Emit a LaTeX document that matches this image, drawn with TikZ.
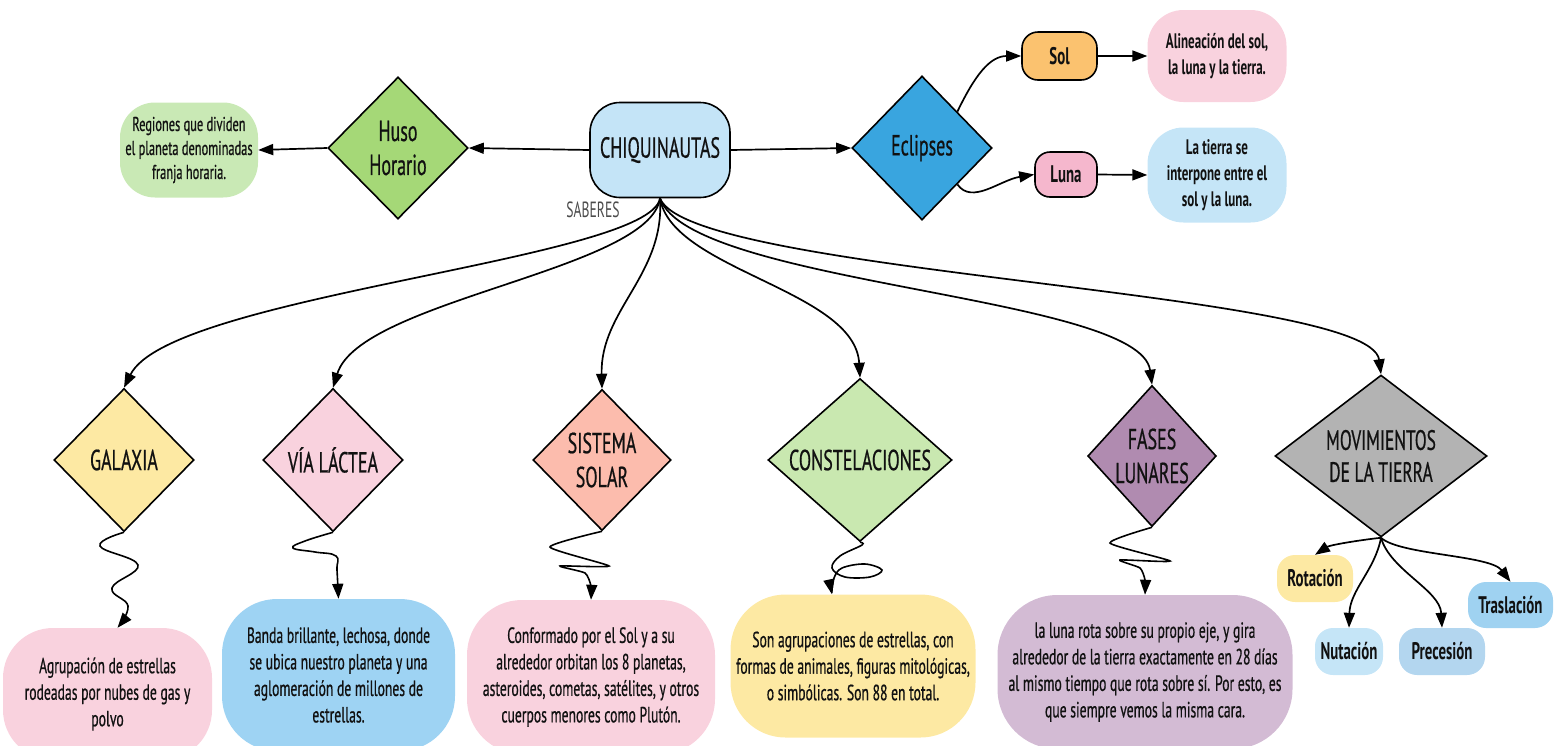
\documentclass[tikz,border=0pt]{standalone}
\usepackage{fontspec}
\setmainfont{PT Sans}[FakeStretch=0.62]
\newfontfamily\firmfont{PT Sans}[FakeStretch=0.62, FakeBold=0.6]
\usetikzlibrary{shapes.geometric,arrows.meta,calc}

\definecolor{ink}{HTML}{111111}
\definecolor{cReg}{HTML}{C9E9B5}
\definecolor{cHuso}{HTML}{A5D877}
\definecolor{cChiq}{HTML}{C4E4F7}
\definecolor{cEcl}{HTML}{39A5DF}
\definecolor{cSol}{HTML}{FBC26F}
\definecolor{cLuna}{HTML}{F5B7CD}
\definecolor{cPink}{HTML}{F9D2DE}
\definecolor{cSky}{HTML}{C5E5F7}
\definecolor{cYel}{HTML}{FDE9A3}
\definecolor{cSalmon}{HTML}{FCBCAD}
\definecolor{cGreen}{HTML}{C9E8B0}
\definecolor{cPurple}{HTML}{B08BB0}
\definecolor{cGray}{HTML}{B3B3B3}
\definecolor{cBlue}{HTML}{9ED3F3}
\definecolor{cLilac}{HTML}{D3BBD4}
\definecolor{cSteel}{HTML}{B3D6EF}
\definecolor{cTras}{HTML}{9FD2F1}

\begin{document}
\begin{tikzpicture}[x=1pt,y=-1pt,
  every node/.style={text=ink, align=center, inner sep=0pt},
  body/.style={font=\firmfont\fontsize{22}{26.5}\selectfont},
  small/.style={font=\firmfont\fontsize{20}{24}\selectfont},
  tag/.style={font=\fontsize{24}{28}\selectfont\bfseries},
  note/.style={font=\fontsize{21}{26}\selectfont\bfseries},
  head/.style={font=\firmfont\fontsize{29}{34}\selectfont},
  pill/.style={rectangle, rounded corners=#1},
  framed/.style={draw=black, line width=1.6pt},
  dia/.style={diamond, draw=black, line width=1.6pt, head},
  conn/.style={draw=black, line width=1.7pt, -{Triangle[length=15pt,width=11pt]}},
  wave/.style={conn, line width=1.6pt}
]
\useasboundingbox (0,0) rectangle (1560,745);

% ---- central node and top row ----
\node[pill=30pt, framed, fill=cChiq, minimum width=140pt, minimum height=95pt, head] (chiq) at (660,150) {CHIQUINAUTAS};
\node[font=\fontsize{22}{26}\selectfont, text=black!70] (sab) at (593,210) {SABERES};

\node[dia, fill=cHuso, minimum width=140pt, minimum height=142pt] (huso) at (398,148) {Huso\\Horario};
\node[pill=35pt, fill=cReg, minimum width=138pt, minimum height=95pt, small] (reg) at (189,150)
  {Regiones que dividen\\el planeta denominadas\\franja horaria.};

\node[dia, fill=cEcl, minimum width=140pt, minimum height=144pt] (ecl) at (922,148) {Eclipses};
\node[pill=16pt, framed, fill=cSol, minimum width=75pt, minimum height=48pt, tag] (sol) at (1059.5,56) {Sol};
\node[pill=15pt, framed, fill=cLuna, minimum width=62pt, minimum height=45pt, tag] (luna) at (1066,174.5) {Luna};
\node[pill=36pt, fill=cPink, minimum width=139pt, minimum height=92pt, note] (alin) at (1217,56)
  {Alineación del sol,\\la luna y la tierra.};
\node[pill=36pt, fill=cSky, minimum width=139pt, minimum height=95pt, note] (tierra) at (1217,175)
  {La tierra se\\interpone entre el\\sol y la luna.};

% ---- second row of diamonds ----
\node[dia, fill=cYel, minimum width=140pt, minimum height=143pt] (gal) at (124,460) {GALAXIA};
\node[dia, fill=cPink, minimum width=140pt, minimum height=143pt] (via) at (333,460) {VÍA LÁCTEA};
\node[dia, fill=cSalmon, minimum width=138pt, minimum height=141pt] (sis) at (602,460) {SISTEMA\\SOLAR};
\node[dia, fill=cGreen, minimum width=184pt, minimum height=141pt] (con) at (860,460) {CONSTELACIONES};
\node[dia, fill=cPurple, minimum width=120pt, minimum height=141pt] (fas) at (1152,456) {FASES\\LUNARES};
\node[dia, fill=cGray, minimum width=212pt, minimum height=142pt, font=\firmfont\fontsize{28}{32}\selectfont] (mov) at (1381,456) {MOVIMIENTOS\\DE LA TIERRA};

% ---- descriptions ----
\node[pill=50pt, fill=cPink, minimum width=209pt, minimum height=132pt, body] (agr) at (107.5,694)
  {Agrupación de estrellas\\rodeadas por nubes de gas y\\polvo};
\node[pill=55pt, fill=cBlue, minimum width=233pt, minimum height=152pt, body] (banda) at (338.5,675)
  {Banda brillante, lechosa, donde\\se ubica nuestro planeta y una\\aglomeración de millones de\\estrellas.};
\node[pill=55pt, fill=cPink, minimum width=248pt, minimum height=154pt, body] (conf) at (591,677)
  {Conformado por el Sol y a su\\alrededor orbitan los 8 planetas,\\asteroides, cometas, satélites, y otros\\cuerpos menores como Plutón.};
\node[pill=55pt, fill=cYel, minimum width=245pt, minimum height=143pt, body] (son) at (853,666)
  {Son agrupaciones de estrellas, con\\formas de animales, figuras mitológicas,\\o simbólicas. Son 88 en total.};
\node[pill=60pt, fill=cLilac, minimum width=295pt, minimum height=154pt, body] (lrot) at (1145,672)
  {la luna rota sobre su propio eje, y gira\\alrededor de la tierra exactamente en 28 días\\al mismo tiempo que rota sobre sí. Por esto, es\\que siempre vemos la misma cara.};

\node[pill=18pt, fill=cYel, minimum width=76pt, minimum height=47pt, tag] (rot) at (1315,578.5) {Rotación};
\node[pill=18pt, fill=cSky, minimum width=68pt, minimum height=47pt, tag] (nut) at (1349,651.5) {Nutación};
\node[pill=18pt, fill=cSteel, minimum width=86pt, minimum height=47pt, tag] (pre) at (1442,651.5) {Precesión};
\node[pill=18pt, fill=cTras, minimum width=85pt, minimum height=46pt, tag] (tras) at (1510.5,605) {Traslación};

% ---- top connectors ----
\draw[conn] (chiq.west) -- (huso.east);
\draw[conn] (huso.west) -- (reg.east);
\draw[conn] (chiq.east) -- (ecl.west);
\draw[conn] (ecl.north east) .. controls (975,75) and (990,56) .. (sol.west);
\draw[conn] (ecl.south east) .. controls (972,205) and (1000,180) .. (luna.west);
\draw[conn] (sol.east) -- (alin.west);
\draw[conn] (luna.east) -- (tierra.west);

% ---- fan of curves from the central node ----
\draw[conn] (chiq.south) .. controls (650,260) and (170,295) .. (gal.north);
\draw[conn] (chiq.south) .. controls (650,270) and (360,300) .. (via.north);
\draw[conn] (chiq.south) .. controls (665,275) and (600,310) .. (sis.north);
\draw[conn] (chiq.south) .. controls (672,270) and (855,290) .. (con.north);
\draw[conn] (chiq.south) .. controls (690,285) and (1140,295) .. (fas.north);
\draw[conn] (chiq.south) .. controls (690,275) and (1370,290) .. (mov.north);

% ---- wavy links to the descriptions ----
\draw[wave] plot[smooth, tension=0.7] coordinates
  {(gal.south) (100,546) (138,565) (112,588) (128,606) ([xshift=10pt]agr.north)};
\draw[wave] plot[smooth, tension=0.7] coordinates
  {(via.south) (305,541) (293,548) (315,552) (336,556) (337,570) (banda.north)};
\draw[wave] plot[smooth, tension=0.35] coordinates
  {(sis.south) (550,547) (609,566) (560,566) (585,573) (591,586) (conf.north)};
\draw[wave] plot[smooth, tension=0.6] coordinates
  {(con.south) (862,545) (840,556) (832,568) (845,577) (870,577) (882,570) (865,564) (842,568) (834,578) (832,590) ([xshift=-21pt]son.north)};
\draw[wave] plot[smooth, tension=0.35] coordinates
  {(fas.south) (1110,543) (1170,561) (1120,560) (1140,568) (1145,580) (lrot.north)};

% ---- movements of the Earth ----
\draw[conn] (mov.south) .. controls (1360,540) and (1330,545) .. (rot.north);
\draw[conn] (mov.south) .. controls (1375,570) and (1350,590) .. (nut.north);
\draw[conn] (mov.south) .. controls (1390,570) and (1440,590) .. (pre.north);
\draw[conn] (mov.south) .. controls (1400,555) and (1490,555) .. (tras.north);
\end{tikzpicture}
\end{document}
